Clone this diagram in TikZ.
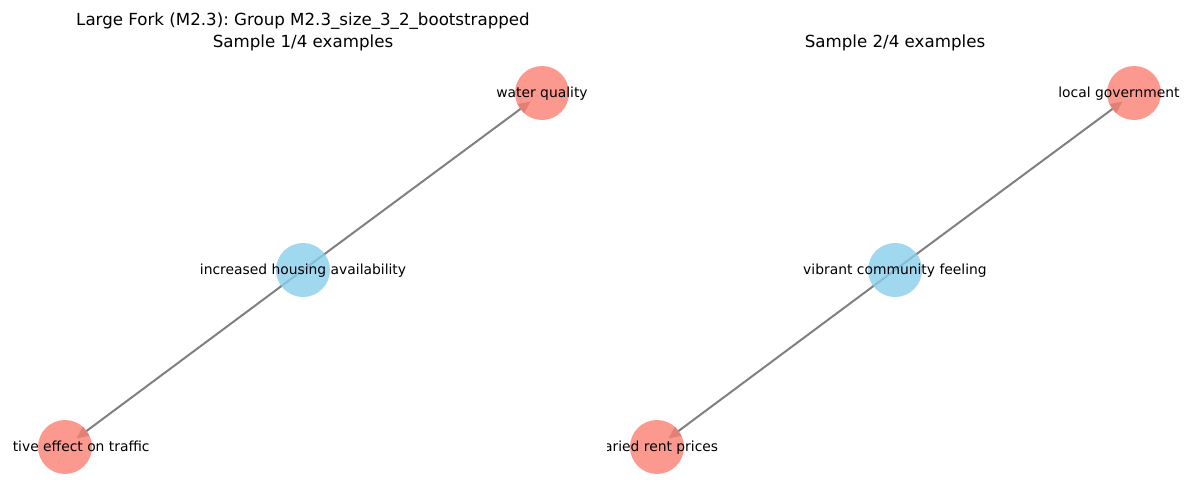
\documentclass[tikz,border=0pt]{standalone}
\usepackage{fontspec}
\setmainfont{DejaVu Sans}
\usetikzlibrary{arrows.meta}
\frenchspacing
\definecolor{salmonc}{HTML}{FA8072}
\definecolor{skyc}{HTML}{87CEEB}
\definecolor{edgec}{HTML}{808080}
\tikzset{
  causenode/.style={circle, fill=skyc, fill opacity=0.8, draw=none, minimum size=40.5pt, inner sep=0pt},
  effectnode/.style={circle, fill=salmonc, fill opacity=0.8, draw=none, minimum size=40.5pt, inner sep=0pt},
  nodetext/.style={font=\fontsize{10.4pt}{12pt}\selectfont, text=black, inner sep=0pt},
  titletext/.style={font=\fontsize{12.5pt}{15pt}\selectfont, text=black, inner sep=0pt, align=center},
  link/.style={draw=edgec, line width=1.5pt, -{Triangle[length=9pt, width=8pt]}, shorten >=-9.75pt}
}
\begin{document}
\begin{tikzpicture}[x=0.75pt, y=-0.75pt]
\useasboundingbox (0,0) rectangle (1200,500);

% titles
\node[titletext] (title1) at (303,21) {Large Fork (M2.3): Group M2.3\_size\_3\_2\_bootstrapped};
\node[titletext] (title2) at (303,43) {Sample 1/4 examples};
\node[titletext] (title3) at (895,43) {Sample 2/4 examples};

% left panel
\begin{scope}
\clip (12,0) rectangle (592,500);
\node[causenode, fill=none] (a0) at (303,270) {};
\node[effectnode, fill=none] (a1) at (542,93) {};
\node[effectnode, fill=none] (a2) at (65,447) {};
\draw[link] (a0.center) -- (a1);
\draw[link] (a0.center) -- (a2);
\node[causenode] (a0f) at (a0) {};
\node[effectnode] (a1f) at (a1) {};
\node[effectnode] (a2f) at (a2) {};
\node[nodetext] (a0t) at ([yshift=-0.75pt]a0) {increased housing availability};
\node[nodetext] (a1t) at ([yshift=-0.75pt]a1) {water quality};
\node[nodetext] (a2t) at ([xshift=1.5pt, yshift=-0.75pt]a2) {positive effect on traffic};
\end{scope}

% right panel
\begin{scope}
\clip (607,0) rectangle (1190,500);
\node[causenode, fill=none] (b0) at (895,270) {};
\node[effectnode, fill=none] (b1) at (1134,93) {};
\node[effectnode, fill=none] (b2) at (657,447) {};
\draw[link] (b0.center) -- (b1);
\draw[link] (b0.center) -- (b2);
\node[causenode] (b0f) at (b0) {};
\node[effectnode] (b1f) at (b1) {};
\node[effectnode] (b2f) at (b2) {};
\node[nodetext] (b0t) at ([yshift=-0.75pt]b0) {vibrant community feeling};
\node[nodetext] (b1t) at ([xshift=-11.25pt, yshift=-0.75pt]b1) {local government};
\node[nodetext] (b2t) at ([yshift=-0.75pt]b2) {varied rent prices};
\end{scope}
\end{tikzpicture}
\end{document}
